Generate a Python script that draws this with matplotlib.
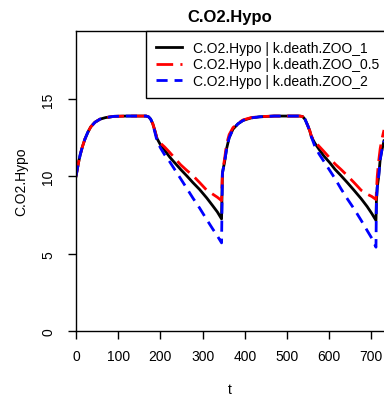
import matplotlib
matplotlib.use('Agg')
import matplotlib.pyplot as plt

plt.rcParams['font.family'] = ['Liberation Sans', 'DejaVu Sans']

# time axis (days), shared by all three runs
t = [0, 3, 6, 10, 15, 21, 28, 35, 45, 57, 70, 90, 120, 150, 166, 172, 177, 182, 187, 192,
     200, 210, 222, 235, 248, 262, 277, 293, 310, 324, 335, 345,
     347, 349, 352, 357, 363, 372, 384, 396, 415, 435, 470, 510, 530, 537, 543, 549, 554, 558,
     566, 576, 588, 601, 614, 628, 643, 659, 676, 690, 701, 711,
     712, 714, 717, 721, 725, 730]

zoo_1 = [10.0, 10.45, 10.9, 11.4, 11.9, 12.4, 12.85, 13.2, 13.5, 13.7, 13.8, 13.88, 13.9, 13.9, 13.9, 13.85, 13.7, 13.4, 12.95, 12.45,
         12.05, 11.7, 11.25, 10.85, 10.45, 10.05, 9.6, 9.15, 8.6, 8.1, 7.7, 7.25,
         10.2, 10.5, 10.9, 11.8, 12.5, 13.05, 13.4, 13.62, 13.78, 13.85, 13.9, 13.9, 13.9, 13.87, 13.68, 13.3, 12.95, 12.55,
         12.15, 11.75, 11.3, 10.9, 10.45, 10.05, 9.6, 9.1, 8.55, 8.05, 7.6, 7.15,
         8.4, 9.3, 9.9, 11.1, 11.7, 12.3]

zoo_05 = [10.0, 10.45, 10.9, 11.4, 11.9, 12.4, 12.85, 13.2, 13.5, 13.7, 13.8, 13.88, 13.9, 13.9, 13.9, 13.85, 13.7, 13.4, 12.95, 12.45,
          12.15, 11.9, 11.55, 11.15, 10.75, 10.4, 10.05, 9.6, 9.1, 8.85, 8.65, 8.43,
          10.3, 10.6, 11.1, 12.1, 12.7, 13.15, 13.45, 13.65, 13.8, 13.86, 13.9, 13.9, 13.9, 13.87, 13.68, 13.3, 12.95, 12.6,
          12.25, 11.95, 11.6, 11.2, 10.8, 10.45, 10.05, 9.6, 9.1, 8.85, 8.7, 8.5,
          9.0, 10.0, 10.9, 11.8, 12.4, 13.0]

zoo_2 = [10.0, 10.45, 10.9, 11.4, 11.9, 12.4, 12.85, 13.2, 13.5, 13.7, 13.8, 13.88, 13.9, 13.9, 13.9, 13.85, 13.7, 13.4, 12.85, 12.3,
         11.85, 11.4, 10.95, 10.4, 9.85, 9.25, 8.6, 7.95, 7.2, 6.6, 6.15, 5.7,
         10.2, 10.5, 10.9, 11.8, 12.5, 13.05, 13.4, 13.62, 13.78, 13.85, 13.9, 13.9, 13.9, 13.87, 13.68, 13.3, 12.95, 12.55,
         11.95, 11.45, 10.95, 10.4, 9.85, 9.2, 8.55, 7.9, 7.15, 6.5, 6.0, 5.42,
         8.4, 9.3, 9.9, 11.1, 11.7, 12.3]

labels = ['C.O2.Hypo | k.death.ZOO_1', 'C.O2.Hypo | k.death.ZOO_0.5', 'C.O2.Hypo | k.death.ZOO_2']
xticks = [0, 100, 200, 300, 400, 500, 600, 700]
yticks = [0, 5, 10, 15]

W, H = 384, 402
fig = plt.figure(figsize=(W / 100, H / 100), dpi=100)
ax = fig.add_axes([76 / W, 70 / H, 308 / W, 300 / H])

ax.plot(t, zoo_1, color='black', lw=2, label=labels[0])
ax.plot(t, zoo_05, color='red', lw=2, dashes=(6, 2.6), label=labels[1])
ax.plot(t, zoo_2, color='blue', lw=2, dashes=(4, 2.5), label=labels[2])

ax.set_xlim(0, 730)
ax.set_ylim(0, 19.4)
ax.set_xticks(xticks)
ax.set_yticks(yticks)
ax.tick_params(direction='out', length=6, width=1, labelsize=10)
ax.tick_params(axis='x', pad=7)
ax.tick_params(axis='y', pad=9)
for lab in ax.get_yticklabels():
    lab.set_rotation(90)
    lab.set_va('center')
ax.spines['right'].set_visible(False)
for s in ['left', 'top', 'bottom']:
    ax.spines[s].set_linewidth(1)

ax.set_title('C.O2.Hypo', fontsize=12, fontweight='bold', pad=7)
ax.set_xlabel('t', fontsize=10)
ax.xaxis.set_label_coords(0.5, -0.17)
ax.set_ylabel('C.O2.Hypo', fontsize=10)
ax.yaxis.set_label_coords(-0.155, 0.5)

leg = ax.legend(loc='upper right', bbox_to_anchor=(1.015, 1.0), borderaxespad=0, fontsize=10,
                frameon=True, fancybox=False, edgecolor='black', framealpha=1,
                handlelength=1.9, handletextpad=0.75, labelspacing=0.2, borderpad=0.7)
leg.get_frame().set_linewidth(1)

fig.savefig('out.png', dpi=100)
